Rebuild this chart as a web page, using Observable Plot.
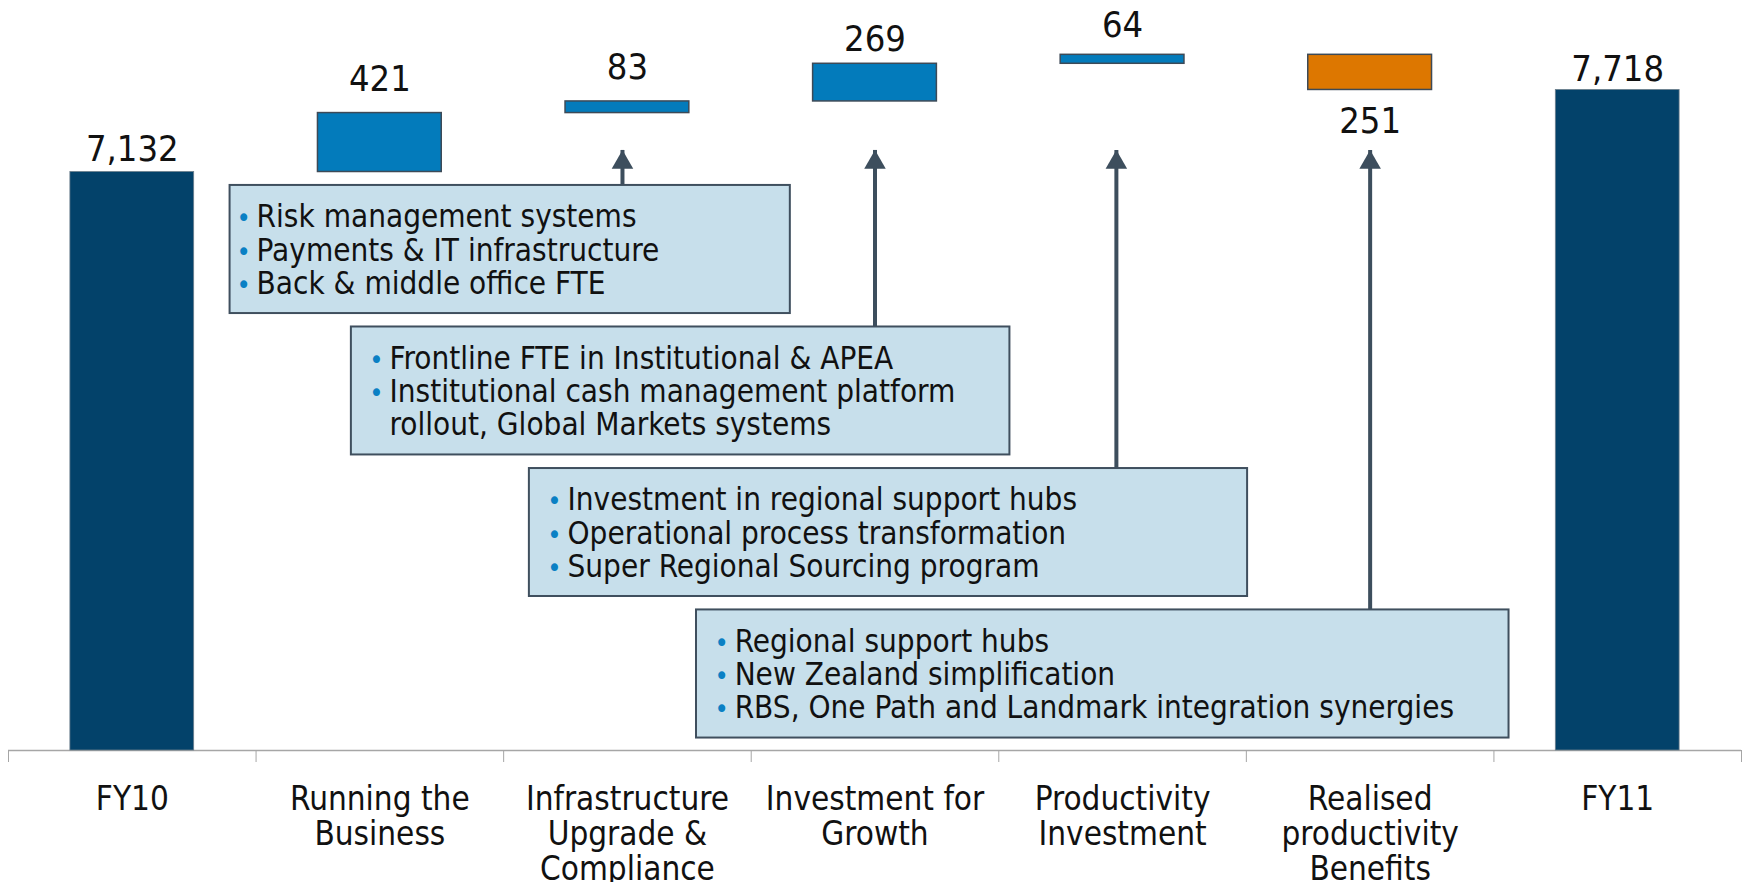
<!DOCTYPE html>
<html><head><meta charset="utf-8">
<script src="https://cdn.jsdelivr.net/npm/d3@7"></script>
<script src="https://cdn.jsdelivr.net/npm/@observablehq/plot@0.6"></script>
<style>
html,body{margin:0;padding:0;background:#fff;}
</style>
</head><body><div id="chart"></div>
<script>
// ---- data ----
const categories = ["FY10", "Running the\nBusiness", "Infrastructure\nUpgrade &\nCompliance", "Investment for\nGrowth", "Productivity\nInvestment", "Realised\nproductivity\nBenefits", "FY11"];
const kinds = ["total", "up", "up", "up", "up", "down", "total"];
const values = [7132, 421, 83, 269, 64, -251, 7718];
const valueLabels = ["7,132", "421", "83", "269", "64", "251", "7,718"];

const note1 = ["Risk management systems", "Payments & IT infrastructure", "Back & middle office FTE"];
const note2 = ["Frontline FTE in Institutional & APEA", "Institutional cash management platform", "rollout, Global Markets systems"];
const note3 = ["Investment in regional support hubs", "Operational process transformation", "Super Regional Sourcing program"];
const note4 = ["Regional support hubs", "New Zealand simplification", "RBS, One Path and Landmark integration synergies"];
const noteBullets = [[true, true, true], [true, true, false], [true, true, true], [true, true, true]];
const noteCategory = [2, 3, 4, 5];   // category each note's arrow points to

// ---- layout (annotation placement, in scale units) ----
const yMin = 3000, yMax = 8357;
const noteX1 = [0.895, 1.385, 2.104, 2.779];
const noteX2 = [3.158, 4.045, 5.005, 6.061];
const noteTextX = [1.002, 1.539, 2.258, 2.933];
const noteTop = [7036, 6025, 5014, 4004];
const noteBottom = [6121, 5111, 4100, 3089];
const arrowX = [2.48, 3.5, 4.475, 5.5];
const arrowTip = 7286;
const labelGap = [11, 22, 22, 13, 18, 20, 9];

// ---- build ----
let cum = 0;
const rows = categories.map((cat, i) => {
  let y1, y2;
  if (kinds[i] === "total") { y1 = yMin; y2 = values[i]; cum = values[i]; }
  else { y1 = cum; y2 = cum + values[i]; cum = y2; }
  return {i, cat, kind: kinds[i], value: values[i], label: valueLabels[i], lo: Math.min(y1, y2), hi: Math.max(y1, y2)};
});
const notesText = [note1, note2, note3, note4];
const notes = notesText.map((lines, k) => ({
  k, text: lines.join("\n"),
  bullets: noteBullets[k].map(b => b ? "•" : " ").join("\n"),
  x1: noteX1[k], x2: noteX2[k], tx: noteTextX[k], top: noteTop[k], bottom: noteBottom[k],
  ax: arrowX[k]
}));

const colors = {total: "#03426A", up: "#037BBB", down: "#DD7700"};
const FONT = "'DejaVu Sans Condensed', 'DejaVu Sans', sans-serif";

const labelMarks = rows.map((r, i) => r.kind === "down"
  ? Plot.text([r], {x: d => d.i + 0.5, y: d => d.lo, text: "label", lineAnchor: "top", dy: labelGap[i] - 3, fontSize: 36, fill: "#111"})
  : Plot.text([r], {x: d => d.i + 0.5, y: d => d.hi, text: "label", lineAnchor: "bottom", dy: -labelGap[i], fontSize: 36, fill: "#111"}));

const chart = Plot.plot({
  width: 1747, height: 882,
  marginLeft: 8, marginRight: 6, marginTop: 0, marginBottom: 132,
  x: {domain: [0, 7]},
  y: {domain: [yMin, yMax], axis: null},
  style: {fontFamily: FONT, background: "#fff", color: "#111", overflow: "visible"},
  marks: [
    Plot.ruleY([yMin], {stroke: "#a6a6a6", strokeWidth: 1.5}),
    Plot.axisX({ticks: d3.range(8), tickSize: 12, tickFormat: () => "", stroke: "#a6a6a6"}),
    Plot.rect(rows, {x1: d => d.i + 0.25, x2: d => d.i + 0.75, y1: "lo", y2: "hi",
      fill: d => colors[d.kind], stroke: d => d.kind === "total" ? "#6d7f8c" : "#3d4a57", strokeWidth: d => d.kind === "total" ? 0.8 : 1.5}),
    ...labelMarks,
    Plot.text(rows, {x: d => d.i + 0.5, y: yMin, text: "cat", lineAnchor: "top", dy: 34, fontSize: 33, lineHeight: 1.07, fill: "#111"}),
    // arrows
    Plot.ruleX(notes, {x: "ax", y1: "top", y2: arrowTip, stroke: "#3d4e5d", strokeWidth: 4}),
    Plot.dot(notes, {x: "ax", y: arrowTip, symbol: "triangle", r: 8, fill: "#3d4e5d", dy: 12}),
    // note boxes
    Plot.rect(notes, {x1: "x1", x2: "x2", y1: "bottom", y2: "top", fill: "#C7DFEB", stroke: "#3f4f5e", strokeWidth: 2}),
    Plot.text(notes, {x: "tx", y: "top", text: "bullets", textAnchor: "middle", lineAnchor: "top", dx: -13, dy: 18, fontSize: 27, lineHeight: 1.237, fill: "#0A80C4"}),
    Plot.text(notes, {x: "tx", y: "top", text: "text", textAnchor: "start", lineAnchor: "top", dy: 18, fontSize: 31.2, lineHeight: 1.07, fill: "#111"})
  ]
});
document.getElementById("chart").appendChild(chart);
</script>
</body></html>
